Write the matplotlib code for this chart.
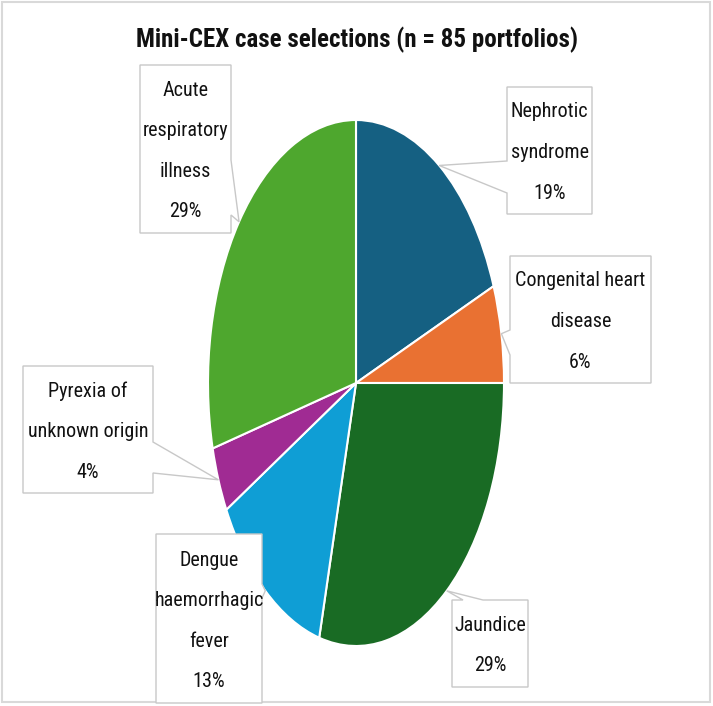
import matplotlib.pyplot as plt
from matplotlib.patches import Polygon, Rectangle
import numpy as np

plt.rcParams["font.family"] = ["Roboto Condensed", "Liberation Sans Narrow", "Roboto", "DejaVu Sans"]

# --- Data ---
labels = ["Nephrotic\nsyndrome", "Congenital heart\ndisease", "Jaundice",
          "Dengue\nhaemorrhagic\nfever", "Pyrexia of\nunknown origin",
          "Acute\nrespiratory\nillness"]
pcts = [19, 6, 29, 13, 4, 29]
colors = ["#156082", "#E97132", "#196B24", "#0F9ED5", "#A02B93", "#4EA72E"]
title = "Mini-CEX case selections (n = 85 portfolios)"

# --- Callout layout (pixels: left, top, right, bottom), pointer side and base ---
boxes = [(507, 87, 592, 214), (510, 256, 651, 383), (452, 600, 528, 687),
         (156, 534, 262, 703), (23, 366, 153, 493), (140, 65, 231, 233)]
sides = ["left", "left", "top", "right", "right", "right"]
bases = [(161, 193), (330, 355), (463, 483), (584, 598), (442, 473), (160, 215)]

W, H = 713, 706
fig = plt.figure(figsize=(W / 100, H / 100), dpi=100)

# pie is stretched into an ellipse, as in the reference
cx, cy, rx, ry = 356, 383, 148, 263
pie_ax = fig.add_axes([(cx - rx) / W, (H - cy - ry) / H, 2 * rx / W, 2 * ry / H])
wedges, _ = pie_ax.pie(pcts, colors=colors, startangle=90, counterclock=False,
                       wedgeprops=dict(edgecolor="white", linewidth=1.5))
pie_ax.set_aspect("auto")
pie_ax.set_xlim(-1, 1)
pie_ax.set_ylim(-1, 1)

ov = fig.add_axes([0, 0, 1, 1])
ov.set_xlim(0, W)
ov.set_ylim(H, 0)
ov.axis("off")
ov.patch.set_alpha(0)

# outer frame
ov.add_patch(Rectangle((2, 2), 708, 700, fill=False, edgecolor="#d9d9d9", lw=1.5))


def callout(l, t, r, b, side, base, apex):
    b1, b2 = base
    if side == "top":
        pts = [(l, t), (b1, t), apex, (b2, t), (r, t), (r, b), (l, b)]
    elif side == "right":
        pts = [(l, t), (r, t), (r, b1), apex, (r, b2), (r, b), (l, b)]
    elif side == "bottom":
        pts = [(l, t), (r, t), (r, b), (b2, b), apex, (b1, b), (l, b)]
    else:
        pts = [(l, t), (r, t), (r, b), (l, b), (l, b2), apex, (l, b1)]
    return Polygon(pts, closed=True, facecolor="white", edgecolor="#c8c8c8", lw=1)


for w, lab, p, box, side, base in zip(wedges, labels, pcts, boxes, sides, bases):
    mid = np.deg2rad((w.theta1 + w.theta2) / 2)
    apex = (cx + rx * np.cos(mid), cy - ry * np.sin(mid))
    l, t, r, b = box
    ov.add_patch(callout(l, t, r, b, side, base, apex))
    if lab.startswith("Dengue"):
        yc = 621
    else:
        yc = (t + b) / 2 + 2
    ov.text((l + r) / 2, yc, f"{lab}\n{p}%", ha="center", va="center",
            fontsize=14.5, linespacing=2.44, color="#111111")

fig.text(0.5, 1 - 40 / H, title, ha="center", va="center",
         fontsize=18, fontweight="bold", color="#111111")

plt.savefig("out.png", dpi=100)
